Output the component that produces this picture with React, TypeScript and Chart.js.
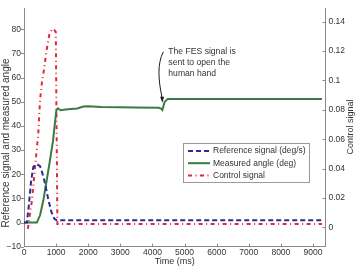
import React, { useEffect, useRef } from "react";
import { Chart, registerables } from "chart.js";

Chart.register(...registerables);

// Reference signal (deg/s), left axis
const REF_TIME = [0, 90, 150, 220, 290, 350, 420, 500, 560, 650, 750, 850, 950, 1020, 9280];
const REF_VALUE = [0, 0, 7, 17, 23, 24, 24, 23.3, 21, 16.5, 10, 4.5, 1.5, 1, 1];

// Measured angle (deg), left axis
const ANGLE_TIME = [0, 400, 500, 600, 700, 800, 900, 970, 1010, 1060, 1140, 1300, 1460, 1660, 1850, 2000, 2400, 3000, 3450, 4200, 4270, 4310, 4380, 4480, 9280];
const ANGLE_VALUE = [0, 0, 3, 9, 17, 25, 33.5, 42, 46.6, 47.3, 46.5, 46.8, 47, 47.2, 48, 48.1, 47.8, 47.7, 47.6, 47.5, 47.2, 46.6, 50, 51.2, 51.2];

// Control signal, right axis
const CTRL_TIME = [120, 250, 345, 445, 500, 560, 625, 700, 790, 870, 940, 990, 1040, 9280];
const CTRL_VALUE = [-0.001, 0.0186, 0.041, 0.064, 0.0867, 0.099, 0.1077, 0.12, 0.1315, 0.135, 0.1345, 0.133, 0.0023, 0.0023];

// Tick values and labels
const X_TICKS = [0, 1000, 2000, 3000, 4000, 5000, 6000, 7000, 8000, 9000];
const LEFT_TICKS = [-10, 0, 10, 20, 30, 40, 50, 60, 70, 80];
const LEFT_LABELS = ["\u221210", "0", "10", "20", "30", "40", "50", "60", "70", "80"];
const RIGHT_TICKS = [0, 0.02, 0.04, 0.06, 0.08, 0.1, 0.12, 0.14];
const RIGHT_LABELS = ["0", "0.02", "0.04", "0.06", "0.08", "0.1", "0.12", "0.14"];

const SERIES_NAMES = ["Reference signal (deg/s)", "Measured angle (deg)", "Control signal"];
const NOTE_LINES = ["The FES signal is", "sent to open the", "human hand"];
// Note anchor (time, angle) and arrow tip (time, angle)
const NOTE_AT = [4495, 70.6];
const ARROW_FROM = [4339, 70.7];
const ARROW_TO = [4300, 49.6];

const FONT = "'Liberation Sans', Arial, Helvetica, sans-serif";
const TEXT = "#333333";
const AXIS = "#8a8a8a";
const BLUE = "#2b2b95";
const GREEN = "#3b7a45";
const RED = "#e3263b";

const BLUE_DASH = [5, 3];
const RED_DASH = [4, 3.5, 1, 3.5];

const zip = (xs: number[], ys: number[]) => xs.map((x, i) => ({ x, y: ys[i] }));

const decor = {
  id: "decor",
  afterDraw(chart: any) {
    const { ctx, chartArea: a, scales } = chart;
    const x = scales.x, y = scales.y, y1 = scales.y1;
    ctx.save();
    ctx.strokeStyle = AXIS;
    ctx.lineWidth = 1;
    ctx.beginPath();
    LEFT_TICKS.forEach((v) => {
      const p = Math.round(y.getPixelForValue(v)) + 0.5;
      ctx.moveTo(a.left - 3, p);
      ctx.lineTo(a.left, p);
    });
    RIGHT_TICKS.forEach((v) => {
      const p = Math.round(y1.getPixelForValue(v)) + 0.5;
      ctx.moveTo(a.right - 3, p);
      ctx.lineTo(a.right, p);
    });
    X_TICKS.forEach((v) => {
      const p = Math.round(x.getPixelForValue(v)) + 0.5;
      ctx.moveTo(p, a.bottom);
      ctx.lineTo(p, a.bottom - 3);
    });
    ctx.stroke();

    // axis titles
    ctx.fillStyle = TEXT;
    ctx.font = `9px ${FONT}`;
    ctx.textAlign = "center";
    ctx.textBaseline = "middle";
    ctx.fillText("Time (ms)", (a.left + a.right) / 2, 262);
    ctx.save();
    ctx.translate(351, 127);
    ctx.rotate(-Math.PI / 2);
    ctx.fillText("Control signal", 0, 0);
    ctx.restore();
    ctx.save();
    ctx.font = `10px ${FONT}`;
    ctx.translate(6.5, 143);
    ctx.rotate(-Math.PI / 2);
    ctx.fillText("Reference signal and measured angle", 0, 0);
    ctx.restore();

    // note and arrow
    ctx.font = `8.6px ${FONT}`;
    ctx.textAlign = "left";
    const nx = x.getPixelForValue(NOTE_AT[0]);
    const ny = y.getPixelForValue(NOTE_AT[1]);
    NOTE_LINES.forEach((t, i) => ctx.fillText(t, nx, ny + i * 10.6));
    const ax0 = x.getPixelForValue(ARROW_FROM[0]);
    const ay0 = y.getPixelForValue(ARROW_FROM[1]);
    const ax1 = x.getPixelForValue(ARROW_TO[0]);
    const ay1 = y.getPixelForValue(ARROW_TO[1]);
    ctx.strokeStyle = "#1a1a1a";
    ctx.lineWidth = 1;
    ctx.beginPath();
    ctx.moveTo(ax0, ay0);
    ctx.bezierCurveTo(ax0 - 6, ay0 + 12, ax1 - 4, ay1 - 24, ax1, ay1 - 5);
    ctx.stroke();
    ctx.fillStyle = "#1a1a1a";
    ctx.beginPath();
    ctx.moveTo(ax1 + 0.3, ay1);
    ctx.lineTo(ax1 - 2, ay1 - 6);
    ctx.lineTo(ax1 + 2, ay1 - 6);
    ctx.closePath();
    ctx.fill();

    // legend
    const lx = 183.5, ly = 143.5, lw = 126, lh = 39;
    ctx.fillStyle = "#ffffff";
    ctx.fillRect(lx, ly, lw, lh);
    ctx.strokeStyle = "#9a9a9a";
    ctx.strokeRect(lx, ly, lw, lh);
    ctx.font = `8.5px ${FONT}`;
    ctx.textBaseline = "middle";
    chart.data.datasets.forEach((ds: any, i: number) => {
      const ry = ly + 7.5 + i * 12.2;
      ctx.strokeStyle = ds.borderColor;
      ctx.lineWidth = ds.borderWidth;
      ctx.setLineDash(ds.borderDash || []);
      ctx.beginPath();
      ctx.moveTo(lx + 4.5, ry);
      ctx.lineTo(lx + 26.5, ry);
      ctx.stroke();
      ctx.setLineDash([]);
      ctx.fillStyle = TEXT;
      ctx.fillText(ds.label, lx + 29.5, ry);
    });
    ctx.restore();
  },
};

export default function App() {
  const ref = useRef<HTMLCanvasElement | null>(null);
  useEffect(() => {
    if (!ref.current) return;
    Chart.defaults.font.family = FONT;
    const chart = new Chart(ref.current, {
      type: "line",
      data: {
        datasets: [
          {
            label: SERIES_NAMES[0],
            data: zip(REF_TIME, REF_VALUE),
            yAxisID: "y",
            borderColor: BLUE,
            borderWidth: 2,
            borderDash: BLUE_DASH,
            pointRadius: 0,
            tension: 0,
          },
          {
            label: SERIES_NAMES[1],
            data: zip(ANGLE_TIME, ANGLE_VALUE),
            yAxisID: "y",
            borderColor: GREEN,
            borderWidth: 2,
            pointRadius: 0,
            tension: 0,
          },
          {
            label: SERIES_NAMES[2],
            data: zip(CTRL_TIME, CTRL_VALUE),
            yAxisID: "y1",
            borderColor: RED,
            borderWidth: 2,
            borderDash: RED_DASH,
            pointRadius: 0,
            tension: 0,
          },
        ],
      },
      options: {
        animation: false,
        responsive: false,
        parsing: false as any,
        layout: { padding: { top: 8.3, left: 0, right: 0, bottom: 0 } },
        plugins: { legend: { display: false }, tooltip: { enabled: false } },
        scales: {
          x: {
            type: "linear",
            min: 0,
            max: 9390,
            grid: { display: false, drawTicks: false },
            border: { display: true, color: AXIS },
            ticks: {
              color: TEXT,
              font: { size: 8.5 },
              padding: 1,
              maxRotation: 0,
              autoSkip: false,
              callback: (v: any) => String(v),
            },
            afterBuildTicks: (s: any) => {
              s.ticks = X_TICKS.map((v) => ({ value: v }));
            },
            afterFit: (s: any) => {
              s.height = 20.3;
            },
          },
          y: {
            type: "linear",
            position: "left",
            min: -10,
            max: 88.7,
            grid: { display: false, drawTicks: false },
            border: { display: true, color: AXIS },
            ticks: {
              color: TEXT,
              font: { size: 8.5 },
              padding: 3,
              autoSkip: false,
              callback: (v: any) => {
                const i = LEFT_TICKS.indexOf(Number(v));
                return i >= 0 ? LEFT_LABELS[i] : "";
              },
            },
            afterBuildTicks: (s: any) => {
              s.ticks = LEFT_TICKS.map((v) => ({ value: v }));
            },
            afterFit: (s: any) => {
              s.width = 24;
            },
          },
          y1: {
            type: "linear",
            position: "right",
            min: -0.0132,
            max: 0.1491,
            grid: { display: false, drawTicks: false },
            border: { display: true, color: AXIS },
            ticks: {
              color: TEXT,
              font: { size: 8.5 },
              padding: 3,
              autoSkip: false,
              callback: (v: any) => {
                const i = RIGHT_TICKS.findIndex((t) => Math.abs(t - Number(v)) < 1e-9);
                return i >= 0 ? RIGHT_LABELS[i] : "";
              },
            },
            afterBuildTicks: (s: any) => {
              s.ticks = RIGHT_TICKS.map((v) => ({ value: v }));
            },
            afterFit: (s: any) => {
              s.width = 31.5;
            },
          },
        },
      },
      plugins: [decor],
    });
    return () => chart.destroy();
  }, []);
  return (
    <div style={{ position: "fixed", left: 0, top: 0, width: 357, height: 267, background: "#fff" }}>
      <canvas ref={ref} width={357} height={267} style={{ display: "block" }} />
    </div>
  );
}
